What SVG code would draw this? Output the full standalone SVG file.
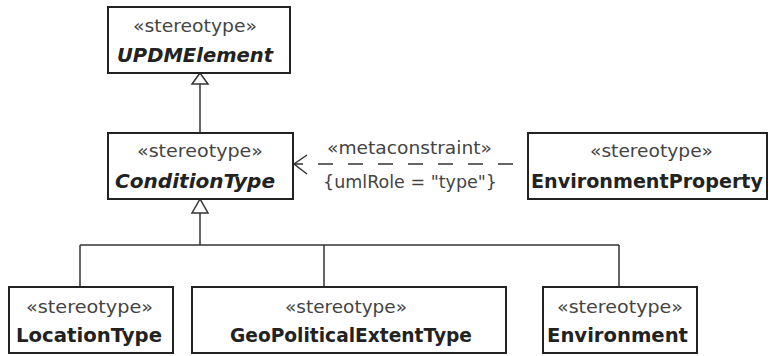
<svg xmlns="http://www.w3.org/2000/svg" width="769" height="356" viewBox="0 0 769 356">
<style>
.box{fill:#fff;stroke:#222;stroke-width:2}
.st{font-family:"DejaVu Sans",sans-serif;font-size:17px;fill:#444}
.nm{font-family:"DejaVu Sans",sans-serif;font-size:20px;font-weight:bold;fill:#222}
.ab{font-style:italic}
.ln{fill:none;stroke:#333;stroke-width:1.5}
.gen{fill:#fff;stroke:#333;stroke-width:1.5}
.dash{fill:none;stroke:#333;stroke-width:1.5;stroke-dasharray:15 15}
.lbl{font-family:"DejaVu Sans",sans-serif;font-size:17px;fill:#444}
</style>
<rect width="769" height="356" fill="#fff"/>
<g id="connectors">
  <line class="ln" x1="200" y1="84" x2="200" y2="133"/>
  <polygon class="gen" points="200,73 192,84 208,84"/>
  <path class="ln" d="M200,213 V245 M80,245 H619 M80,245 V287 M324,245 V287 M619,245 V287"/>
  <polygon class="gen" points="200,199 192,213 208,213"/>
  <line class="dash" x1="513" y1="164" x2="293" y2="164"/>
  <path class="ln" d="M307,155 L294,164 L307,174"/>
  <text class="lbl" x="327" y="154" textLength="165" lengthAdjust="spacingAndGlyphs">«metaconstraint»</text>
  <text class="lbl" x="323" y="188" textLength="174" lengthAdjust="spacingAndGlyphs">{umlRole = "type"}</text>
</g>
<g id="UPDMElement">
  <rect class="box" x="108" y="7" width="182" height="66"/>
  <text class="st" x="133" y="32" textLength="124" lengthAdjust="spacingAndGlyphs">«stereotype»</text>
  <text class="nm ab" x="117" y="62" textLength="156" lengthAdjust="spacingAndGlyphs">UPDMElement</text>
</g>
<g id="ConditionType">
  <rect class="box" x="108" y="133" width="185" height="66"/>
  <text class="st" x="137" y="157" textLength="126" lengthAdjust="spacingAndGlyphs">«stereotype»</text>
  <text class="nm ab" x="115" y="188" textLength="160" lengthAdjust="spacingAndGlyphs">ConditionType</text>
</g>
<g id="EnvironmentProperty">
  <rect class="box" x="528" y="133" width="239" height="66"/>
  <text class="st" x="590" y="157" textLength="123" lengthAdjust="spacingAndGlyphs">«stereotype»</text>
  <text class="nm" x="531" y="188" style="font-size:19px" textLength="232" lengthAdjust="spacingAndGlyphs">EnvironmentProperty</text>
</g>
<g id="LocationType">
  <rect class="box" x="9" y="287" width="164" height="66"/>
  <text class="st" x="26" y="313" textLength="127" lengthAdjust="spacingAndGlyphs">«stereotype»</text>
  <text class="nm" x="16" y="342" textLength="146" lengthAdjust="spacingAndGlyphs">LocationType</text>
</g>
<g id="GeoPoliticalExtentType">
  <rect class="box" x="192" y="287" width="314" height="66"/>
  <text class="st" x="285" y="313" textLength="122" lengthAdjust="spacingAndGlyphs">«stereotype»</text>
  <text class="nm" x="230" y="342" textLength="242" lengthAdjust="spacingAndGlyphs">GeoPoliticalExtentType</text>
</g>
<g id="Environment">
  <rect class="box" x="543" y="287" width="154" height="66"/>
  <text class="st" x="557" y="313" textLength="126" lengthAdjust="spacingAndGlyphs">«stereotype»</text>
  <text class="nm" x="547" y="342" textLength="141" lengthAdjust="spacingAndGlyphs">Environment</text>
</g>
</svg>
